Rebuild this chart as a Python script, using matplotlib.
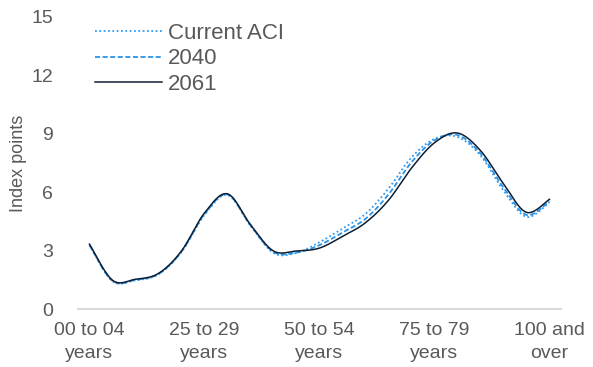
import numpy as np
import matplotlib
matplotlib.use('Agg')
import matplotlib.pyplot as plt

plt.rcParams['font.family'] = ['Liberation Sans', 'DejaVu Sans']

age_groups = ['00 to 04\nyears', '05 to 09\nyears', '10 to 14\nyears', '15 to 19\nyears',
              '20 to 24\nyears', '25 to 29\nyears', '30 to 34\nyears', '35 to 39\nyears',
              '40 to 44\nyears', '45 to 49\nyears', '50 to 54\nyears', '55 to 59\nyears',
              '60 to 64\nyears', '65 to 69\nyears', '70 to 74\nyears', '75 to 79\nyears',
              '80 to 84\nyears', '85 to 89\nyears', '90 to 94\nyears', '95 to 99\nyears',
              '100 and\nover']

current_aci = [3.3, 1.45, 1.5, 1.8, 2.95, 4.85, 5.87, 4.3, 2.9, 2.9, 3.45, 4.15,
               4.9, 6.2, 7.8, 8.75, 8.85, 7.9, 6.1, 4.75, 5.5]
y2040 = [3.3, 1.47, 1.52, 1.82, 2.97, 4.9, 5.9, 4.32, 2.95, 2.92, 3.3, 3.95,
         4.65, 5.9, 7.55, 8.68, 8.95, 8.0, 6.25, 4.85, 5.55]
y2061 = [3.35, 1.5, 1.55, 1.85, 3.0, 4.95, 5.93, 4.35, 3.0, 3.0, 3.15, 3.75,
         4.45, 5.6, 7.25, 8.55, 9.05, 8.15, 6.45, 4.98, 5.65]

yticks = [0, 3, 6, 9, 12, 15]
shown = [0, 5, 10, 15, 20]


def smooth(y, n=30):
    # excel style smoothed line: bezier segments with catmull-rom tangents
    y = np.asarray(y, dtype=float)
    x = np.arange(len(y), dtype=float)
    px = np.concatenate([[x[0]], x, [x[-1]]])
    py = np.concatenate([[y[0]], y, [y[-1]]])
    xs, ys = [], []
    t = np.linspace(0, 1, n)
    for i in range(len(y) - 1):
        p0 = np.array([px[i + 1], py[i + 1]])
        p3 = np.array([px[i + 2], py[i + 2]])
        c1 = p0 + (np.array([px[i + 2], py[i + 2]]) - np.array([px[i], py[i]])) / 6
        c2 = p3 - (np.array([px[i + 3], py[i + 3]]) - np.array([px[i + 1], py[i + 1]])) / 6
        b = ((1 - t) ** 3)[:, None] * p0 + (3 * (1 - t) ** 2 * t)[:, None] * c1 \
            + (3 * (1 - t) * t ** 2)[:, None] * c2 + (t ** 3)[:, None] * p3
        xs.append(b[:, 0])
        ys.append(b[:, 1])
    return np.concatenate(xs), np.concatenate(ys)


fig = plt.figure(figsize=(5.93, 3.67), dpi=100)
ax = fig.add_axes([0.1315, 0.1567, 0.8145, 0.797])

gx, gy = smooth(current_aci)
ax.plot(gx, gy, color='#2E9BF5', lw=1.3, linestyle=(0, (1, 1.4)), label='Current ACI')
gx, gy = smooth(y2040)
ax.plot(gx, gy, color='#2A93E6', lw=1.3, linestyle=(0, (2.8, 1.4)), label='2040')
gx, gy = smooth(y2061)
ax.plot(gx, gy, color='#0E1F33', lw=1.1, label='2061')

ax.set_xlim(-0.5, len(age_groups) - 0.5)
ax.set_ylim(0, 15)
ax.set_yticks(yticks)
ax.set_xticks(shown)
ax.set_xticklabels([age_groups[i] for i in shown], linespacing=1.45)
ax.tick_params(length=0, labelsize=14, labelcolor='#595959')
ax.tick_params(axis='y', pad=18)
ax.tick_params(axis='x', pad=9)

for s in ['top', 'right', 'left']:
    ax.spines[s].set_visible(False)
ax.spines['bottom'].set_color('#D9D9D9')
ax.spines['bottom'].set_linewidth(1.5)

ax.set_ylabel('Index points', fontsize=13, color='#595959', labelpad=3)

leg = ax.legend(loc='upper left', bbox_to_anchor=(95 / 593, 1 - 23 / 367),
                bbox_transform=fig.transFigure, frameon=False, fontsize=16,
                handlelength=3.0, handletextpad=0.3, labelspacing=0.2,
                borderpad=0, borderaxespad=0)
for t in leg.get_texts():
    t.set_color('#595959')

fig.savefig('out.png', dpi=100)
